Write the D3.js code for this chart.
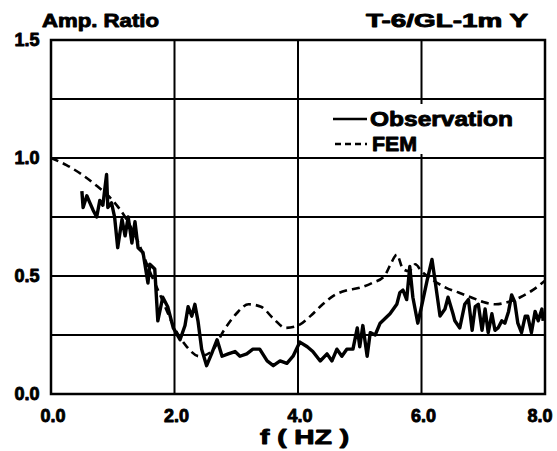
<!DOCTYPE html>
<html><head><meta charset="utf-8">
<script src="https://cdn.jsdelivr.net/npm/d3@7"></script>
<style>html,body{margin:0;padding:0;background:#fff;}svg{display:block;}</style>
</head><body>
<svg id="chart" width="557" height="451"></svg>
<script>
const xTicks = [0, 2, 4, 6, 8];
const xTickLabels = ["0.0", "2.0", "4.0", "6.0", "8.0"];
const yTicks = [0, 0.5, 1.0, 1.5];
const yTickLabels = ["0.0", "0.5", "1.0", "1.5"];
const yGrid = [0.25, 0.5, 0.75, 1.0, 1.25];
const xGrid = [2, 4, 6];

const obsF = [0.50,0.52,0.58,0.63,0.68,0.74,0.79,0.84,0.90,0.92,
0.98,1.03,1.08,1.15,1.20,1.25,1.31,1.36,1.41,1.49,
1.57,1.60,1.68,1.73,1.81,1.89,1.98,2.09,2.17,2.22,
2.28,2.33,2.38,2.44,2.52,2.60,2.69,2.77,2.87,2.98,
3.06,3.17,3.27,3.38,3.50,3.60,3.71,3.82,3.92,4.03,
4.15,4.24,4.36,4.47,4.55,4.63,4.71,4.79,4.89,4.96,
5.00,5.05,5.12,5.17,5.25,5.33,5.41,5.49,5.60,5.65,
5.70,5.76,5.81,5.86,5.94,6.00,6.09,6.17,6.22,6.30,
6.38,6.43,6.51,6.54,6.62,6.70,6.76,6.82,6.87,6.92,
6.98,7.03,7.08,7.14,7.19,7.24,7.30,7.35,7.41,7.46,
7.51,7.56,7.62,7.68,7.72,7.78,7.84,7.89,7.95,7.97];
const obsA = [0.86,0.79,0.84,0.81,0.78,0.75,0.82,0.80,0.93,0.79,
0.81,0.75,0.62,0.74,0.67,0.75,0.64,0.73,0.62,0.60,
0.47,0.55,0.53,0.31,0.41,0.37,0.28,0.23,0.29,0.37,
0.33,0.38,0.31,0.19,0.12,0.17,0.23,0.16,0.17,0.18,
0.16,0.17,0.19,0.19,0.14,0.12,0.14,0.13,0.16,0.22,
0.20,0.18,0.14,0.17,0.14,0.19,0.16,0.19,0.19,0.28,
0.20,0.29,0.16,0.26,0.25,0.30,0.32,0.34,0.38,0.43,
0.44,0.40,0.54,0.41,0.30,0.37,0.48,0.57,0.48,0.33,
0.36,0.41,0.34,0.31,0.28,0.38,0.40,0.27,0.37,0.38,
0.27,0.36,0.26,0.34,0.27,0.28,0.31,0.30,0.35,0.42,
0.39,0.30,0.26,0.33,0.33,0.26,0.35,0.31,0.36,0.31];

const femF = [0.0,0.25,0.5,0.75,1.0,1.2,1.4,1.6,1.8,2.0,2.2,2.4,2.6,2.8,3.0,3.2,3.4,3.6,3.8,4.0,4.2,4.4,4.6,4.8,5.0,5.2,5.4,5.5,5.6,5.7,5.8,5.9,6.0,6.2,6.4,6.6,6.8,7.0,7.2,7.4,7.6,7.8,8.0];
const femA = [1.0,0.97,0.93,0.88,0.82,0.75,0.65,0.52,0.40,0.28,0.20,0.16,0.18,0.27,0.34,0.38,0.37,0.32,0.28,0.29,0.33,0.38,0.42,0.44,0.45,0.47,0.50,0.55,0.59,0.53,0.52,0.55,0.52,0.48,0.45,0.43,0.41,0.39,0.38,0.39,0.41,0.44,0.48];

const seriesNames = ["Observation", "FEM"];

const svg = d3.select("#chart");
const L = 51, R = 545, T = 40, B = 394;
const x = d3.scaleLinear().domain([0, 8]).range([L, R]);
const y = d3.scaleLinear().domain([0, 1.5]).range([B, T]);
const font = "'Liberation Sans', Arial, sans-serif";
function bold(sel) {
  return sel.attr("font-family", font).attr("font-weight", "bold")
    .attr("fill", "#000").attr("stroke", "#000").attr("stroke-width", 0.9)
    .attr("stroke-linejoin", "round");
}

// grid
const g = svg.append("g");
g.selectAll(".hg").data(yGrid).enter().append("line")
  .attr("x1", L).attr("x2", R).attr("y1", d => y(d)).attr("y2", d => y(d))
  .attr("stroke", "#000").attr("stroke-width", 2);
g.selectAll(".vg").data(xGrid).enter().append("line")
  .attr("y1", T).attr("y2", B).attr("x1", d => x(d)).attr("x2", d => x(d))
  .attr("stroke", "#000").attr("stroke-width", 2);

// legend background (covers grid)
svg.append("rect").attr("x", 330).attr("y", 104).attr("width", 200).attr("height", 50).attr("fill", "#fff");

// frame
svg.append("rect").attr("x", L).attr("y", T).attr("width", R - L).attr("height", B - T)
  .attr("fill", "none").attr("stroke", "#000").attr("stroke-width", 2.5);

// lines
svg.append("path").datum(femF.map((f, i) => [f, femA[i]]))
  .attr("d", d3.line().x(d => x(d[0])).y(d => y(d[1])).curve(d3.curveMonotoneX))
  .attr("fill", "none").attr("stroke", "#000")
  .attr("stroke-width", 2.6).attr("stroke-dasharray", "8,5");
svg.append("path").datum(obsF.map((f, i) => [f, obsA[i]]))
  .attr("d", d3.line().x(d => x(d[0])).y(d => y(d[1]))).attr("fill", "none").attr("stroke", "#000")
  .attr("stroke-width", 3.4).attr("stroke-linejoin", "round");

// tick labels
bold(svg.selectAll(".yl").data(yTicks).enter().append("text")
  .attr("x", 27).attr("y", d => y(d)).attr("dy", "0.35em").attr("text-anchor", "middle")
  .attr("font-size", 18)).text((d, i) => yTickLabels[i]);
bold(svg.selectAll(".xl").data(xTicks).enter().append("text")
  .attr("x", d => Math.min(x(d) + 2, 540)).attr("y", 422).attr("text-anchor", "middle")
  .attr("font-size", 18)).text((d, i) => xTickLabels[i]);

// titles
bold(svg.append("text").attr("x", 42).attr("y", 27)
  .attr("font-size", 19).attr("textLength", 117).attr("lengthAdjust", "spacingAndGlyphs")).text("Amp. Ratio");
bold(svg.append("text").attr("x", 366).attr("y", 27)
  .attr("font-size", 19).attr("textLength", 162).attr("lengthAdjust", "spacingAndGlyphs")).text("T-6/GL-1m  Y");
bold(svg.append("text").attr("x", 260).attr("y", 444)
  .attr("font-size", 20).attr("textLength", 89).attr("lengthAdjust", "spacingAndGlyphs")).text("f ( HZ )");

// legend
svg.append("line").attr("x1", 333).attr("x2", 367).attr("y1", 119).attr("y2", 119)
  .attr("stroke", "#000").attr("stroke-width", 2.5);
svg.append("line").attr("x1", 335).attr("x2", 367).attr("y1", 144).attr("y2", 144)
  .attr("stroke", "#000").attr("stroke-width", 2.5).attr("stroke-dasharray", "6,4");
bold(svg.append("text").attr("x", 370).attr("y", 126)
  .attr("font-size", 21).attr("textLength", 143).attr("lengthAdjust", "spacingAndGlyphs")).text(seriesNames[0]);
bold(svg.append("text").attr("x", 372).attr("y", 151)
  .attr("font-size", 21).attr("textLength", 45).attr("lengthAdjust", "spacingAndGlyphs")).text(seriesNames[1]);
</script>
</body></html>
